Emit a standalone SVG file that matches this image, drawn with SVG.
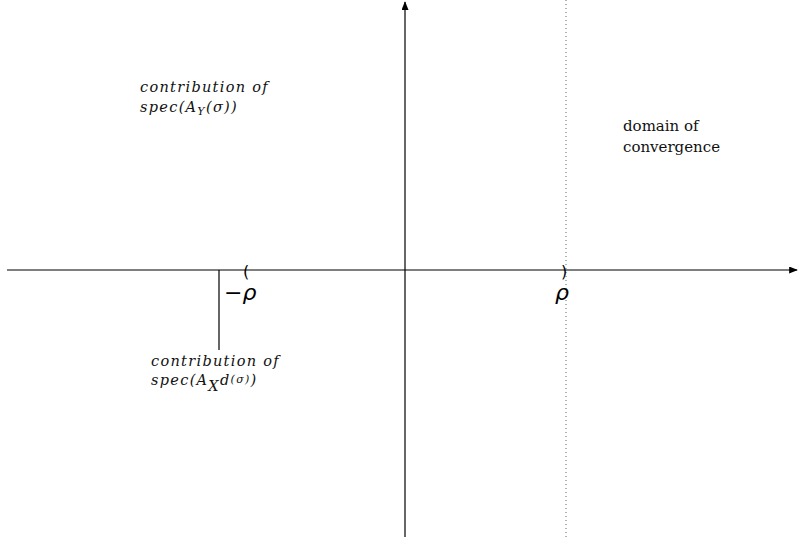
<svg xmlns="http://www.w3.org/2000/svg" width="798" height="537" viewBox="0 0 798 537">
<defs>
<marker id="ah" viewBox="0 0 10 8" refX="9" refY="4" markerWidth="9" markerHeight="7" markerUnits="userSpaceOnUse" orient="auto">
<path d="M0,0 L10,4 L0,8 Z" fill="#000"/>
</marker>
</defs>
<style>
.ax{stroke:#000;stroke-width:1.2;fill:none}
.lbl{font-family:"DejaVu Serif",serif;font-style:italic;font-size:14.5px;letter-spacing:1.3px;fill:#111}
.sub{font-size:11px}
.txt{font-family:"DejaVu Serif",serif;font-size:15px;fill:#111}
.sym{font-family:"DejaVu Sans",sans-serif;font-size:22px;font-style:italic;fill:#000}
.par{font-family:"DejaVu Sans",sans-serif;font-size:16px;fill:#000}
</style>
<rect width="798" height="537" fill="#fff"/>
<g id="connectors">
<line class="ax" x1="7" y1="270" x2="797" y2="270" marker-end="url(#ah)"/>
<line class="ax" x1="405" y1="537" x2="405" y2="2" marker-end="url(#ah)"/>
<line x1="566" y1="0" x2="566" y2="537" stroke="#666" stroke-width="1" stroke-dasharray="1,3"/>
<line class="ax" x1="219" y1="270" x2="219" y2="350"/>
</g>
<g id="minus-rho">
<text class="par" x="243" y="277">(</text>
<text class="sym" x="224" y="300">−ρ</text>
</g>
<g id="rho">
<text class="par" x="561" y="277">)</text>
<text class="sym" x="555" y="300">ρ</text>
</g>
<g id="contribution-Y">
<text class="lbl" x="140" y="92">contribution of</text>
<text class="lbl" x="140" y="112">spec(A<tspan class="sub" dy="3">Y</tspan><tspan dy="-3">(σ))</tspan></text>
</g>
<g id="contribution-Xd">
<text class="lbl" x="151" y="366">contribution of</text>
<text class="lbl" x="151" y="385">spec(A<tspan dy="6">X</tspan><tspan dy="-6">d</tspan><tspan class="sub" dy="-2">(σ)</tspan><tspan dy="2">)</tspan></text>
</g>
<g id="domain">
<text class="txt" x="623" y="131">domain of</text>
<text class="txt" x="623" y="152">convergence</text>
</g>
</svg>
